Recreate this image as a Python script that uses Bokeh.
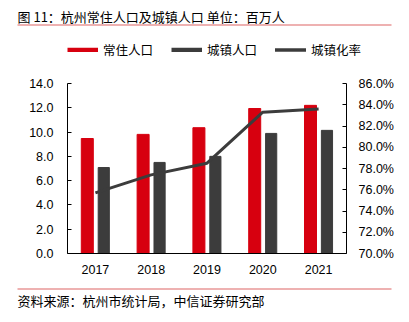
from bokeh.plotting import figure
from bokeh.layouts import column
from bokeh.models import (FactorRange, Range1d, LinearAxis, FixedTicker, PrintfTickFormatter,
                          ColumnDataSource, Legend, LegendItem, Label)
from bokeh.transform import dodge
from bokeh.embed import file_html
from bokeh.resources import INLINE

years = ["2017", "2018", "2019", "2020", "2021"]
resident = [9.47, 9.81, 10.36, 11.94, 12.20]
urban = [7.08, 7.50, 8.00, 9.89, 10.14]
rate = [75.7, 77.4, 78.5, 83.3, 83.6]

title_text = "图 11：杭州常住人口及城镇人口 单位：百万人"
source_text = "资料来源：杭州市统计局，中信证券研究部"
series_names = ["常住人口", "城镇人口", "城镇化率"]

RED = "#D7000F"
DARK = "#3C3C3C"
RULE = "#DE6464"
CJK = "Noto Sans CJK SC"
NUM = "Liberation Sans"
W = 409


def strip(h):
    f = figure(width=W, height=h, frame_width=W, frame_height=h,
               x_range=Range1d(0, W), y_range=Range1d(0, h),
               min_border=0, min_border_left=0, min_border_right=0, min_border_top=0,
               min_border_bottom=0, x_axis_location=None, y_axis_location=None,
               title_location=None, output_backend="svg", toolbar_location=None,
               frame_align=False)
    f.outline_line_color = None
    f.xgrid.grid_line_color = None
    f.ygrid.grid_line_color = None
    return f


def rule(f, h, y):
    # decorative horizontal rule, in the strip's pixel-sized coordinates
    f.segment(x0=[17], y0=[h - y - 0.5], x1=[391], y1=[h - y - 0.5],
              line_color=RULE, line_width=1.2)


# ---- top strip: title, rule, legend
TH = 75
top = strip(TH)
top.add_layout(Label(x=17, y=TH - 16, x_units="screen", y_units="screen", text=title_text,
                     text_font=CJK, text_font_size="13px", text_baseline="middle",
                     text_color="black"))
rule(top, TH, 24)
# legend-only proxies (outside the visible range)
d1 = top.line(x=[-500, -499], y=[-500, -500], line_color=RED, line_width=4.5, line_cap="butt")
d2 = top.line(x=[-500, -499], y=[-500, -500], line_color=DARK, line_width=4.5, line_cap="butt")
d3 = top.line(x=[-500, -499], y=[-500, -500], line_color=DARK, line_width=3.5,
              line_cap="round")
legend = Legend(items=[LegendItem(label=series_names[0], renderers=[d1]),
                       LegendItem(label=series_names[1], renderers=[d2]),
                       LegendItem(label=series_names[2], renderers=[d3])],
                orientation="horizontal", location=(67, TH - 59), padding=0, margin=0,
                spacing=18, label_standoff=5, glyph_width=31, glyph_height=5,
                label_height=14, label_text_font=CJK, label_text_font_size="12.5px",
                label_text_color="black", border_line_color=None, background_fill_alpha=0)
top.add_layout(legend, "center")

# ---- main chart
src = ColumnDataSource(dict(year=years, resident=resident, urban=urban, rate=rate))
FL, FR = 67, 346
FH = 170
MT, MB = 8, 27
p = figure(x_range=FactorRange(*years), y_range=Range1d(0, 14),
           width=W, height=MT + FH + MB, frame_width=FR - FL, frame_height=FH,
           min_border_left=FL, min_border_right=W - FR, min_border_top=MT, min_border_bottom=MB,
           output_backend="svg", toolbar_location=None, frame_align=False)
p.outline_line_color = None
p.xgrid.grid_line_color = None
p.ygrid.grid_line_color = None
p.x_range.range_padding = 0
p.extra_y_ranges = {"rate": Range1d(70, 86)}

p.vbar(x=dodge("year", -0.145, range=p.x_range), top="resident", width=0.215,
       source=src, color=RED)
p.vbar(x=dodge("year", 0.15, range=p.x_range), top="urban", width=0.2,
       source=src, color=DARK)
p.line(x="year", y="rate", source=src, y_range_name="rate", line_color=DARK, line_width=3)

ya = p.yaxis[0]
ya.ticker = FixedTicker(ticks=[0, 2, 4, 6, 8, 10, 12, 14])
ya.formatter = PrintfTickFormatter(format="%.1f")
ra = LinearAxis(y_range_name="rate", ticker=FixedTicker(ticks=list(range(70, 87, 2))),
                formatter=PrintfTickFormatter(format="%.1f%%"))
p.add_layout(ra, "right")
for ax in [ya, ra]:
    ax.major_tick_in = 4
    ax.major_tick_out = 0
    ax.minor_tick_line_color = None
    ax.axis_line_color = "black"
    ax.major_tick_line_color = "black"
    ax.major_label_text_font = NUM
    ax.major_label_text_font_size = "12.5px"
    ax.major_label_text_color = "black"
ya.major_label_standoff = 14
ra.major_label_standoff = 12

xa = p.xaxis[0]
xa.major_tick_line_color = None
xa.axis_line_color = "black"
xa.major_label_text_font = NUM
xa.major_label_text_font_size = "12.5px"
xa.major_label_text_color = "black"
xa.major_label_standoff = 5

# ---- bottom strip: rule, source
BH = 42
bot = strip(BH)
rule(bot, BH, 8)
bot.add_layout(Label(x=17, y=BH - 20, x_units="screen", y_units="screen", text=source_text,
                     text_font=CJK, text_font_size="13px", text_baseline="middle",
                     text_color="black"))

layout = column(top, p, bot, spacing=0)
open("out.html", "w").write(file_html(layout, INLINE))
